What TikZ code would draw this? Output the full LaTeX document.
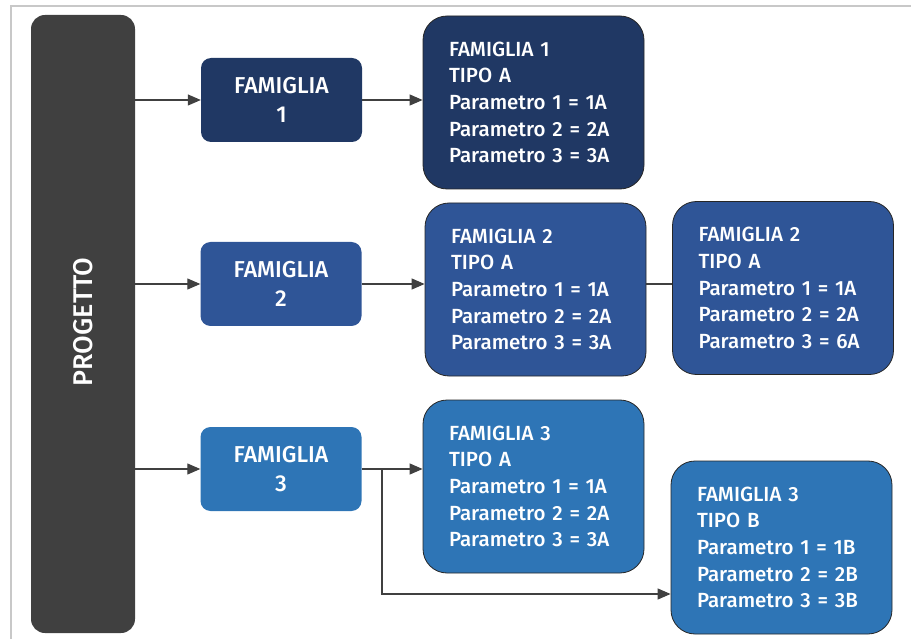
\documentclass[tikz,border=0pt]{standalone}
\usepackage{fontspec}
\setmainfont{Fira Sans}[UprightFont=* Medium]
\usetikzlibrary{positioning, arrows.meta}
\definecolor{progettogray}{HTML}{404040}
\definecolor{famnavy}{HTML}{203864}
\definecolor{fammid}{HTML}{2F5597}
\definecolor{famlight}{HTML}{2E75B6}
\definecolor{framegray}{HTML}{C8C8C8}

\tikzset{
  famsmall/.style={rounded corners=10pt, minimum width=161pt, minimum height=84pt,
    inner sep=0pt, text=white, align=center, font=\fontsize{23}{29}\selectfont},
  famtipo/.style={draw=black!85, line width=0.8pt, rounded corners=24pt,
    minimum width=221pt, minimum height=173pt, inner xsep=26pt, inner ysep=0pt,
    text width=169pt, align=left, text=white, font=\fontsize{20.5}{26.7}\selectfont},
  link/.style={draw=progettogray, line width=1.2pt},
  linkarrow/.style={link, -{Triangle[length=13pt, width=11pt]}}
}

\begin{document}
\begin{tikzpicture}[x=1pt, y=-1pt]
  \useasboundingbox (0,0) rectangle (911,639);
  \draw[framegray, line width=2pt] (11,639) |- (911,6);

  % progetto
  \node[fill=progettogray, rounded corners=14pt, minimum width=104pt, minimum height=618pt,
        inner sep=0pt] (progetto) at (83,324) {};
  \node[rotate=90, text=white, font=\fontsize{27}{30}\selectfont] (progettolabel) at (83,322) {PROGETTO};

  % famiglie
  \node[famsmall, fill=famnavy] (fam1) at (281.5,100) {FAMIGLIA\\1};
  \node[famsmall, fill=fammid] (fam2) at (281,284) {FAMIGLIA\\2};
  \node[famsmall, fill=famlight] (fam3) at (281,469) {FAMIGLIA\\3};

  % tipi
  \node[famtipo, fill=famnavy] (tipo1) at (533.5,102.5)
    {FAMIGLIA 1\\TIPO A\\Parametro 1 = 1A\\Parametro 2 = 2A\\Parametro 3 = 3A};
  \node[famtipo, fill=fammid] (tipo2a) at (535.5,289.5)
    {FAMIGLIA 2\\TIPO A\\Parametro 1 = 1A\\Parametro 2 = 2A\\Parametro 3 = 3A};
  \node[famtipo, fill=fammid] (tipo2b) at (783,288)
    {FAMIGLIA 2\\TIPO A\\Parametro 1 = 1A\\Parametro 2 = 2A\\Parametro 3 = 6A};
  \node[famtipo, fill=famlight] (tipo3a) at (533.5,486.5)
    {FAMIGLIA 3\\TIPO A\\Parametro 1 = 1A\\Parametro 2 = 2A\\Parametro 3 = 3A};
  \node[famtipo, fill=famlight] (tipo3b) at (781.5,547.5)
    {FAMIGLIA 3\\TIPO B\\Parametro 1 = 1B\\Parametro 2 = 2B\\Parametro 3 = 3B};

  % connettori
  \draw[linkarrow] (progetto.east |- fam1.west) -- (fam1.west);
  \draw[linkarrow] (progetto.east |- fam2.west) -- (fam2.west);
  \draw[linkarrow] (progetto.east |- fam3.west) -- (fam3.west);
  \draw[linkarrow] (fam1.east) -- (fam1.east -| tipo1.west);
  \draw[linkarrow] (fam2.east) -- (fam2.east -| tipo2a.west);
  \draw[link] (tipo2a.east |- fam2.east) -- (tipo2b.west |- fam2.east);
  \draw[linkarrow] (fam3.east) -- (fam3.east -| tipo3a.west);
  \coordinate (split) at (382,469);
  \coordinate (low) at (382,594);
  \draw[linkarrow] (split) -- (low) -- (low -| tipo3b.west);
\end{tikzpicture}
\end{document}
